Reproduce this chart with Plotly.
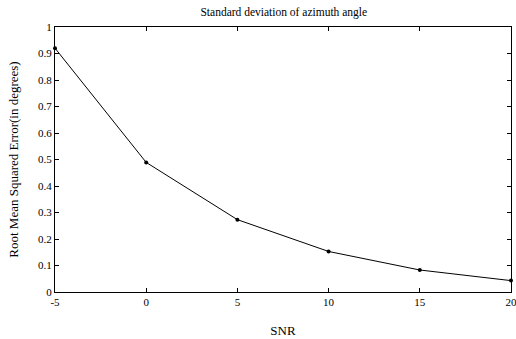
import plotly.graph_objects as go

snr = [-5, 0, 5, 10, 15, 20]
rmse = [0.92, 0.489, 0.273, 0.153, 0.083, 0.043]

x_tickvals = [-5, 0, 5, 10, 15, 20]
x_ticktext = ["-5", "0", "5", "10", "15", "20"]
y_tickvals = [0, 0.1, 0.2, 0.3, 0.4, 0.5, 0.6, 0.7, 0.8, 0.9, 1]
y_ticktext = ["0", "0.1", "0.2", "0.3", "0.4", "0.5", "0.6", "0.7", "0.8", "0.9", "1"]

font = dict(family="Liberation Serif", size=11, color="black")

fig = go.Figure()
fig.add_trace(go.Scatter(
    x=snr, y=rmse, mode="lines+markers",
    line=dict(color="black", width=1),
    marker=dict(color="black", size=4),
    showlegend=False, cliponaxis=False,
))

fig.update_layout(
    width=516, height=339,
    margin=dict(l=55, r=5, t=27, b=47),
    paper_bgcolor="white", plot_bgcolor="white",
    font=font,
    title=dict(text="Standard deviation of azimuth angle", x=0.55, xanchor="center",
               y=0.965, yanchor="middle", font=dict(family="Liberation Serif", size=11.5)),
)
fig.update_xaxes(
    range=[-5, 20], tickvals=x_tickvals, ticktext=x_ticktext,
    showline=True, linecolor="black", linewidth=1, mirror="ticks",
    ticks="inside", ticklen=4, tickcolor="black", showgrid=False, zeroline=False,
    ticklabeloverflow="allow", automargin=False,
    title=dict(text="SNR", standoff=18),
)
fig.update_yaxes(
    range=[0, 1], tickvals=y_tickvals, ticktext=y_ticktext,
    showline=True, linecolor="black", linewidth=1, mirror="ticks",
    ticks="inside", ticklen=4, tickcolor="black", showgrid=False, zeroline=False,
    automargin=False,
    title=dict(text="Root Mean Squared Error(in degrees)", standoff=16),
)

fig.write_html("out.html")
